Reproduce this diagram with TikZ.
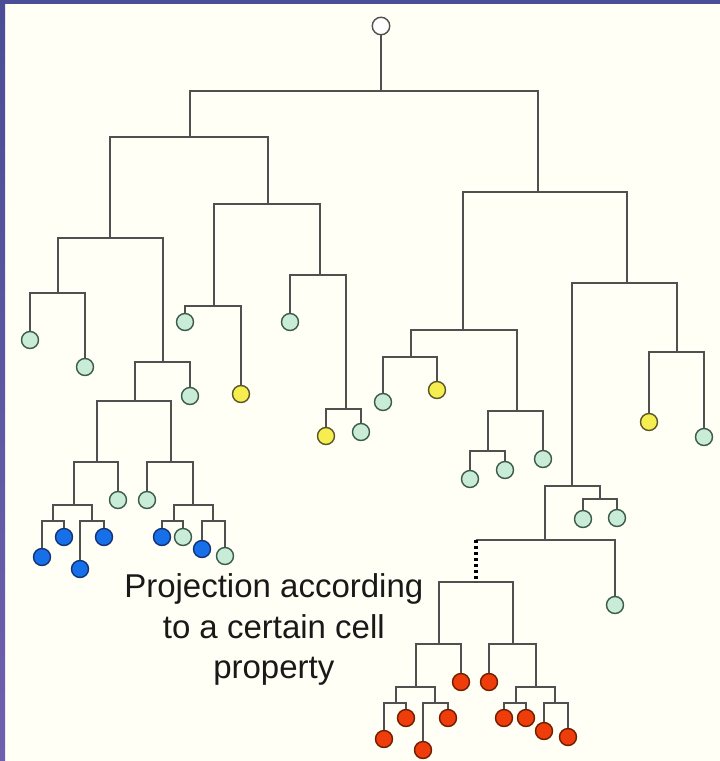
\documentclass[tikz,border=0pt]{standalone}
\usepackage{fontspec}
\setmainfont{Liberation Sans}
\definecolor{paper}{RGB}{255,255,245}
\definecolor{frametop}{RGB}{74,78,150}
\definecolor{framebot}{RGB}{112,96,176}
\definecolor{branch}{RGB}{80,80,80}
\definecolor{mintfill}{RGB}{200,236,213}
\definecolor{mintline}{RGB}{60,90,75}
\definecolor{yellowfill}{RGB}{246,238,80}
\definecolor{yellowline}{RGB}{90,85,40}
\definecolor{bluefill}{RGB}{24,112,232}
\definecolor{blueline}{RGB}{20,50,120}
\definecolor{redfill}{RGB}{238,60,10}
\definecolor{redline}{RGB}{110,30,0}
\definecolor{ink}{RGB}{25,25,25}
\tikzset{
  edge/.style={draw=branch, line width=1.7pt},
  leaf/.style={circle, minimum size=17pt, inner sep=0pt, line width=1.4pt},
  gcell/.style={leaf, draw=mintline, fill=mintfill},
  ycell/.style={leaf, draw=yellowline, fill=yellowfill},
  bcell/.style={leaf, draw=blueline, fill=bluefill},
  rcell/.style={leaf, draw=redline, fill=redfill},
  rootcell/.style={leaf, minimum size=17.5pt, draw=branch, fill=white},
  projection/.style={draw=black, line width=3.5pt, dash pattern=on 3pt off 3pt}
}
\begin{document}
\begin{tikzpicture}[x=1pt, y=-1pt]
% page and frame
\fill[paper] (0,0) rectangle (720,761);
\useasboundingbox (0,0) rectangle (720,761);
\shade[top color=frametop, bottom color=framebot] (0,0) rectangle (5,761);
\fill[frametop] (0,0) rectangle (720,3.5);

% root
\node[rootcell] (root) at (381,26) {};

% branch points (stem x, bar y)
\coordinate (n0) at (381,91);
\coordinate (A) at (190,137);
\coordinate (AA) at (110,238);
\coordinate (AAA) at (58,293);
\coordinate (AAB) at (163,362);
\coordinate (AABA) at (135,401);
\coordinate (C1) at (97,462);
\coordinate (C1a) at (74,505);
\coordinate (C1a1) at (53,521);
\coordinate (C1a2) at (92,521);
\coordinate (C2) at (171,462);
\coordinate (C2b) at (193,505);
\coordinate (C2b1) at (174,521);
\coordinate (C2b2) at (213,521);
\coordinate (AB) at (268,204);
\coordinate (ABA) at (214,306);
\coordinate (ABB) at (320,275);
\coordinate (ABBB) at (346,409);
\coordinate (B) at (538,192);
\coordinate (BA) at (463,330);
\coordinate (BAA) at (411,357);
\coordinate (BAB) at (517,411);
\coordinate (BABA) at (488,451);
\coordinate (BB) at (627,283);
\coordinate (BBB) at (677,352);
\coordinate (BBA) at (572,486);
\coordinate (BBAB) at (600,499);
\coordinate (BBAA) at (545,540);
\coordinate (Rtop) at (476,540);
\coordinate (R) at (476,582);
\coordinate (RA) at (439,644);
\coordinate (RAA) at (416,687);
\coordinate (RAA1) at (396,703);
\coordinate (RAA2) at (435,703);
\coordinate (RB) at (513,644);
\coordinate (RBB) at (536,687);
\coordinate (RBB1) at (516,703);
\coordinate (RBB2) at (555,703);

% cells
\node[gcell] (g1) at (30,340) {};
\node[gcell] (g2) at (85,367) {};
\node[gcell] (g3) at (190,396) {};
\node[gcell] (g4) at (118,500) {};
\node[gcell] (g5) at (147,500) {};
\node[bcell] (b1) at (42,557) {};
\node[bcell] (b2) at (64,537) {};
\node[bcell] (b3) at (80,569) {};
\node[bcell] (b4) at (104,537) {};
\node[bcell] (b5) at (162,537) {};
\node[gcell] (g6) at (183,537) {};
\node[bcell] (b6) at (202,549) {};
\node[gcell] (g7) at (225,556) {};
\node[gcell] (g8) at (185,322) {};
\node[ycell] (y1) at (241,394) {};
\node[gcell] (g9) at (290,322) {};
\node[ycell] (y2) at (326,436) {};
\node[gcell] (g10) at (361,432) {};
\node[gcell] (g11) at (383,402) {};
\node[ycell] (y3) at (437,390) {};
\node[gcell] (g12) at (543,459) {};
\node[gcell] (g13) at (470,479) {};
\node[gcell] (g14) at (505,470) {};
\node[ycell] (y4) at (649,422) {};
\node[gcell] (g15) at (704,437) {};
\node[gcell] (g16) at (583,519) {};
\node[gcell] (g17) at (617,518) {};
\node[gcell] (g18) at (615,605) {};
\node[rcell] (r1) at (461,682) {};
\node[rcell] (r2) at (384,739) {};
\node[rcell] (r3) at (406,718) {};
\node[rcell] (r4) at (423,750) {};
\node[rcell] (r5) at (448,718) {};
\node[rcell] (r6) at (489,682) {};
\node[rcell] (r7) at (504,718) {};
\node[rcell] (r8) at (526,718) {};
\node[rcell] (r9) at (544,731) {};
\node[rcell] (r10) at (568,737) {};

% branches
\path[edge] (root) -- (n0);
\path[edge] (n0) -| (A);   \path[edge] (n0) -| (B);
\path[edge] (A) -| (AA);   \path[edge] (A) -| (AB);
\path[edge] (AA) -| (AAA); \path[edge] (AA) -| (AAB);
\path[edge] (AAA) -| (g1); \path[edge] (AAA) -| (g2);
\path[edge] (AAB) -| (AABA); \path[edge] (AAB) -| (g3);
\path[edge] (AABA) -| (C1); \path[edge] (AABA) -| (C2);
\path[edge] (C1) -| (C1a); \path[edge] (C1) -| (g4);
\path[edge] (C1a) -| (C1a1); \path[edge] (C1a) -| (C1a2);
\path[edge] (C1a1) -| (b1); \path[edge] (C1a1) -| (b2);
\path[edge] (C1a2) -| (b3); \path[edge] (C1a2) -| (b4);
\path[edge] (C2) -| (g5); \path[edge] (C2) -| (C2b);
\path[edge] (C2b) -| (C2b1); \path[edge] (C2b) -| (C2b2);
\path[edge] (C2b1) -| (b5); \path[edge] (C2b1) -| (g6);
\path[edge] (C2b2) -| (b6); \path[edge] (C2b2) -| (g7);
\path[edge] (AB) -| (ABA); \path[edge] (AB) -| (ABB);
\path[edge] (ABA) -| (g8); \path[edge] (ABA) -| (y1);
\path[edge] (ABB) -| (g9); \path[edge] (ABB) -| (ABBB);
\path[edge] (ABBB) -| (y2); \path[edge] (ABBB) -| (g10);
\path[edge] (B) -| (BA); \path[edge] (B) -| (BB);
\path[edge] (BA) -| (BAA); \path[edge] (BA) -| (BAB);
\path[edge] (BAA) -| (g11); \path[edge] (BAA) -| (y3);
\path[edge] (BAB) -| (BABA); \path[edge] (BAB) -| (g12);
\path[edge] (BABA) -| (g13); \path[edge] (BABA) -| (g14);
\path[edge] (BB) -| (BBA); \path[edge] (BB) -| (BBB);
\path[edge] (BBB) -| (y4); \path[edge] (BBB) -| (g15);
\path[edge] (BBA) -| (BBAA); \path[edge] (BBA) -| (BBAB);
\path[edge] (BBAB) -| (g16); \path[edge] (BBAB) -| (g17);
\path[edge] (BBAA) -- (Rtop); \path[edge] (BBAA) -| (g18);
\path[edge] (R) -| (RA); \path[edge] (R) -| (RB);
\path[edge] (RA) -| (RAA); \path[edge] (RA) -| (r1);
\path[edge] (RAA) -| (RAA1); \path[edge] (RAA) -| (RAA2);
\path[edge] (RAA1) -| (r2); \path[edge] (RAA1) -| (r3);
\path[edge] (RAA2) -| (r4); \path[edge] (RAA2) -| (r5);
\path[edge] (RB) -| (r6); \path[edge] (RB) -| (RBB);
\path[edge] (RBB) -| (RBB1); \path[edge] (RBB) -| (RBB2);
\path[edge] (RBB1) -| (r7); \path[edge] (RBB1) -| (r8);
\path[edge] (RBB2) -| (r9); \path[edge] (RBB2) -| (r10);

% projected subtree hangs from a dotted link
\draw[projection] (Rtop) -- (R);

% caption
\node[anchor=north, align=center, inner sep=0pt, text=ink,
      font=\fontsize{33}{40.5}\selectfont] (caption) at (273.8,573.5)
  {Projection according\\to a certain cell\\property};
\end{tikzpicture}
\end{document}
